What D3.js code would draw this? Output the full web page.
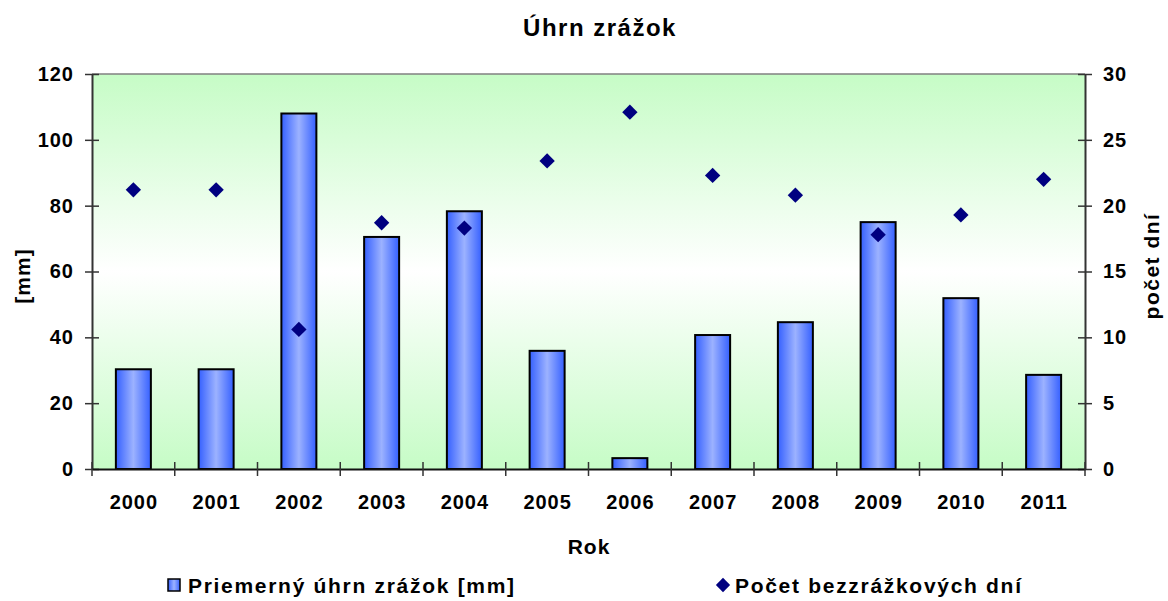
<!DOCTYPE html>
<html>
<head>
<meta charset="utf-8">
<script src="https://cdn.jsdelivr.net/npm/d3@7"></script>
<style>
  body { margin: 0; background: #fff; }
  text { font-family: "Liberation Sans", Arial, sans-serif; font-weight: bold; fill: #000; }
</style>
</head>
<body>
<script>
const years = ["2000", "2001", "2002", "2003", "2004", "2005", "2006", "2007", "2008", "2009", "2010", "2011"];
const rainfall = [30.3, 30.3, 108, 70.5, 78.3, 35.9, 3.3, 40.7, 44.6, 75, 51.9, 28.6];
const dryDays = [21.2, 21.2, 10.6, 18.7, 18.3, 23.4, 27.1, 22.3, 20.8, 17.8, 19.3, 22.0];
const leftTicks = [0, 20, 40, 60, 80, 100, 120];
const rightTicks = [0, 5, 10, 15, 20, 25, 30];

const w = 1168, h = 601;
const pLeft = 92, pRight = 1085, pTop = 74, pBottom = 469;

const svg = d3.select("body").append("svg")
  .attr("width", w)
  .attr("height", h);

const defs = svg.append("defs");
const bg = defs.append("linearGradient").attr("id", "bg")
  .attr("x1", 0).attr("y1", 0).attr("x2", 0).attr("y2", 1);
bg.append("stop").attr("offset", "0%").attr("stop-color", "#c6fcc6");
bg.append("stop").attr("offset", "50%").attr("stop-color", "#ffffff");
bg.append("stop").attr("offset", "100%").attr("stop-color", "#c6fcc6");

const barGrad = defs.append("linearGradient").attr("id", "bar")
  .attr("x1", 0).attr("y1", 0).attr("x2", 1).attr("y2", 0);
barGrad.append("stop").attr("offset", "0%").attr("stop-color", "#3560ff");
barGrad.append("stop").attr("offset", "50%").attr("stop-color", "#9cb2ff");
barGrad.append("stop").attr("offset", "100%").attr("stop-color", "#3560ff");

const x = d3.scaleBand().domain(years).range([pLeft, pRight]);
const yL = d3.scaleLinear().domain([0, 120]).range([pBottom, pTop]);
const yR = d3.scaleLinear().domain([0, 30]).range([pBottom, pTop]);

// plot area
svg.append("rect")
  .attr("x", pLeft).attr("y", pTop)
  .attr("width", pRight - pLeft).attr("height", pBottom - pTop)
  .attr("fill", "url(#bg)");
svg.append("line")
  .attr("x1", pLeft).attr("x2", pRight).attr("y1", pTop).attr("y2", pTop)
  .attr("stroke", "#808080").attr("stroke-width", 1.5);

// bars
const barW = 35;
svg.selectAll("rect.bar")
  .data(rainfall)
  .enter()
  .append("rect")
  .attr("class", "bar")
  .attr("x", (d, i) => x(years[i]) + x.bandwidth() / 2 - barW / 2)
  .attr("y", d => yL(d))
  .attr("width", barW)
  .attr("height", d => yL(0) - yL(d))
  .attr("fill", "url(#bar)")
  .attr("stroke", "#000")
  .attr("stroke-width", 2);

// diamonds
const diamond = d3.symbol().type(d3.symbolDiamond2).size(150);
svg.selectAll("path.dot")
  .data(dryDays)
  .enter()
  .append("path")
  .attr("class", "dot")
  .attr("d", diamond)
  .attr("transform", (d, i) => "translate(" + (x(years[i]) + x.bandwidth() / 2) + "," + yR(d) + ")")
  .attr("fill", "#000080");

// axes
const yAxisL = d3.axisLeft(yL).tickValues(leftTicks).tickSize(0).tickPadding(18);
const gL = svg.append("g").attr("transform", "translate(" + pLeft + ",0)").call(yAxisL);
gL.select(".domain").attr("stroke", "#333").attr("stroke-width", 2);
gL.selectAll(".tick text").attr("font-size", 20).attr("letter-spacing", 1);
gL.selectAll(".tick").append("line").attr("x1", -7).attr("x2", 7).attr("stroke", "#333").attr("stroke-width", 1.5);

const yAxisR = d3.axisRight(yR).tickValues(rightTicks).tickSize(0).tickPadding(18);
const gR = svg.append("g").attr("transform", "translate(" + pRight + ",0)").call(yAxisR);
gR.select(".domain").attr("stroke", "#333").attr("stroke-width", 2);
gR.selectAll(".tick text").attr("font-size", 20).attr("letter-spacing", 1);
gR.selectAll(".tick").append("line").attr("x1", -7).attr("x2", 7).attr("stroke", "#333").attr("stroke-width", 1.5);

const xAxis = d3.axisBottom(x).tickSize(0).tickPadding(26);
const gX = svg.append("g").attr("transform", "translate(0," + pBottom + ")").call(xAxis);
gX.select(".domain").attr("stroke", "#111").attr("stroke-width", 2);
gX.selectAll(".tick text").attr("font-size", 20).attr("letter-spacing", 1).attr("dx", 0.5);
svg.selectAll("line.sep")
  .data(years.concat(["end"]))
  .enter()
  .append("line")
  .attr("class", "sep")
  .attr("x1", (d, i) => pLeft + i * x.bandwidth())
  .attr("x2", (d, i) => pLeft + i * x.bandwidth())
  .attr("y1", pBottom - 7).attr("y2", pBottom + 7)
  .attr("stroke", "#333").attr("stroke-width", 1.5);

// titles
svg.append("text").text("Úhrn zrážok")
  .attr("x", 600).attr("y", 36).attr("text-anchor", "middle").attr("font-size", 24).attr("letter-spacing", 1.5);
svg.append("text").text("Rok")
  .attr("x", 589).attr("y", 554).attr("text-anchor", "middle").attr("font-size", 21).attr("letter-spacing", 1);
svg.append("text").text("[mm]")
  .attr("transform", "translate(30,276) rotate(-90)")
  .attr("text-anchor", "middle").attr("font-size", 21).attr("letter-spacing", 1);
svg.append("text").text("počet dní")
  .attr("transform", "translate(1159,266) rotate(-90)")
  .attr("text-anchor", "middle").attr("font-size", 21).attr("letter-spacing", 1.5);

// legend
svg.append("rect")
  .attr("x", 168).attr("y", 579).attr("width", 12).attr("height", 12)
  .attr("fill", "url(#bar)").attr("stroke", "#000").attr("stroke-width", 1.5);
svg.append("text").text("Priemerný úhrn zrážok [mm]")
  .attr("x", 188).attr("y", 593).attr("font-size", 21).attr("letter-spacing", 1.7);
svg.append("path")
  .attr("d", d3.symbol().type(d3.symbolDiamond2).size(130))
  .attr("transform", "translate(723,585)")
  .attr("fill", "#000080");
svg.append("text").text("Počet bezzrážkových dní")
  .attr("x", 735).attr("y", 593).attr("font-size", 21).attr("letter-spacing", 1.7);
</script>
</body>
</html>
